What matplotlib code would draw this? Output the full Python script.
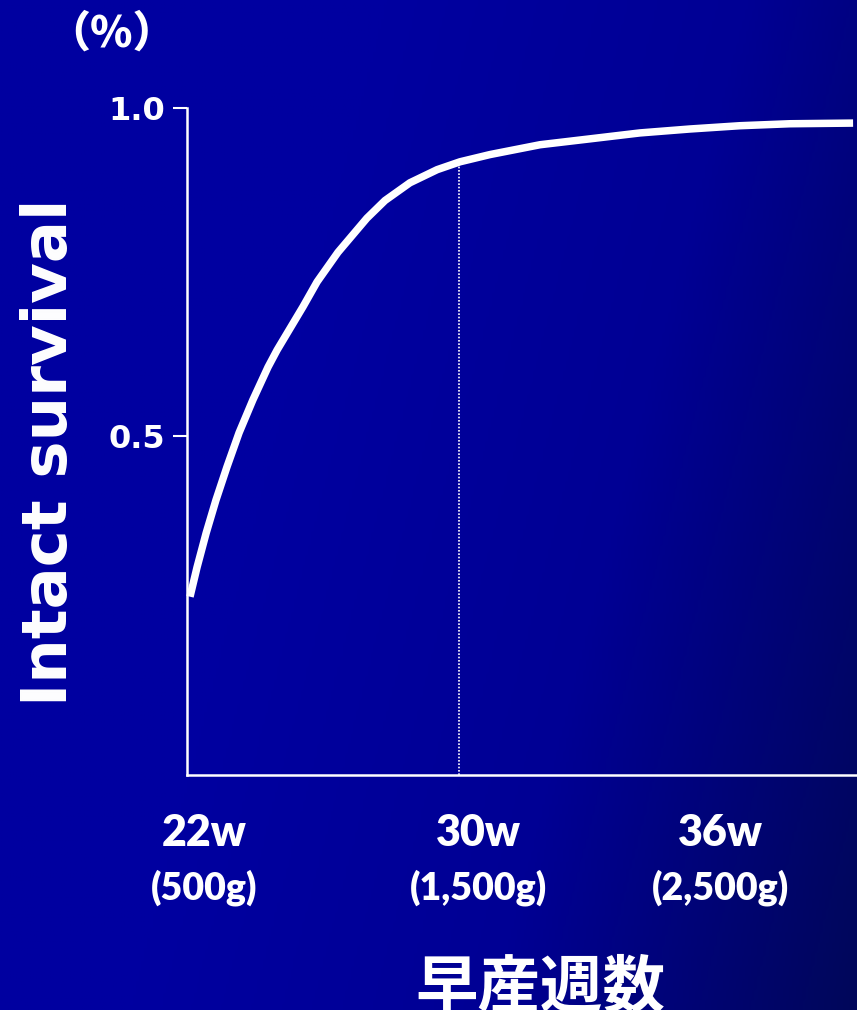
import numpy as np
import matplotlib
matplotlib.use("Agg")
import matplotlib.pyplot as plt
from matplotlib.colors import LinearSegmentedColormap

# curve: gestational week vs intact survival
weeks = [22.00, 22.21, 22.48, 22.77, 23.10, 23.46, 23.87, 24.32, 24.59, 25.36,
         25.78, 26.40, 27.26, 27.80, 28.54, 29.35, 30.03, 30.92, 32.41, 33.90,
         35.38, 36.87, 38.36, 39.84, 41.72]
survival = [0.255, 0.300, 0.352, 0.402, 0.453, 0.505, 0.555, 0.605, 0.631, 0.697,
            0.735, 0.780, 0.832, 0.859, 0.886, 0.906, 0.918, 0.929, 0.944, 0.953,
            0.962, 0.968, 0.973, 0.976, 0.977]

y_ticks = [0.5, 1.0]
y_tick_labels = ["0.5", "1.0"]

week_labels = ["22w", "30w", "36w"]
weight_labels = ["(500g)", "(1,500g)", "(2,500g)"]
label_x = [22.43, 30.58, 37.78]   # where the labels sit along the week axis

marker_week = 30
marker_value = 0.918

W, H = 857, 1010
fig = plt.figure(figsize=(W / 100, H / 100), dpi=100)

# background gradient
bg = fig.add_axes([0, 0, 1, 1], zorder=-1)
gx, gy = np.meshgrid(np.linspace(0, 1, 300), np.linspace(0, 1, 300))
t = np.clip(gx * 1.0 + gy * 0.3 - 0.45, 0, 1)
cmap = LinearSegmentedColormap.from_list("bg", ["#0000a0", "#000094", "#00075a"])
bg.imshow(t, cmap=cmap, aspect="auto", extent=[0, 1, 0, 1], origin="upper")
bg.axis("off")

left, right, top, bottom = 187, 857, 108, 775
ax = fig.add_axes([left / W, 1 - bottom / H, (right - left) / W, (bottom - top) / H])
ax.set_facecolor("none")

px_per_week = (459 - 190) / 8
ax.set_xlim(22 - 3 / px_per_week, 22 + (857 - 190) / px_per_week)
ax.set_ylim(-0.0168, 1.0)

ax.plot(weeks, survival, color="white", lw=5.4, solid_capstyle="butt",
        solid_joinstyle="round", clip_on=False)
ax.vlines(marker_week, -0.0168, marker_value, colors="white", linestyles=(0, (1, 1)), lw=1.2)

for s in ["top", "right"]:
    ax.spines[s].set_visible(False)
for s in ["left", "bottom"]:
    ax.spines[s].set_color("white")
    ax.spines[s].set_linewidth(1.8)

ax.set_yticks(y_ticks)
ax.set_yticklabels(y_tick_labels, fontsize=23, fontweight="bold", color="white",
                   family="DejaVu Sans")
ax.tick_params(axis="y", colors="white", length=10, width=1.5, pad=6)
ax.set_xticks([])

ax.set_ylabel("Intact survival", fontsize=45, fontweight="bold", color="white",
              family="DejaVu Sans", labelpad=0)
ax.yaxis.set_label_coords(-(187 - 80) / (right - left), (775 - 452) / (bottom - top))

for lx, wk, wt in zip(label_x, week_labels, weight_labels):
    ax.annotate(wk, (lx, 0), xycoords=("data", "axes fraction"),
                xytext=(0, -58), textcoords="offset pixels", ha="center", va="center",
                fontsize=31, fontweight="heavy", color="white", family="Lato")
    ax.annotate(wt, (lx, 0), xycoords=("data", "axes fraction"),
                xytext=(0, -113), textcoords="offset pixels", ha="center", va="center",
                fontsize=27, fontweight="heavy", color="white", family="Lato")

fig.text(111 / W, 1 - 34 / H, "（%）", fontsize=31, fontweight="heavy", color="white",
         ha="center", va="center", family=["Noto Sans CJK JP", "DejaVu Sans"])
fig.text(540 / W, 1 - 988 / H, "早産週数", fontsize=45, fontweight="bold", color="white",
         ha="center", va="center", family=["Noto Sans CJK JP", "DejaVu Sans"])

fig.savefig("out.png", dpi=100)
